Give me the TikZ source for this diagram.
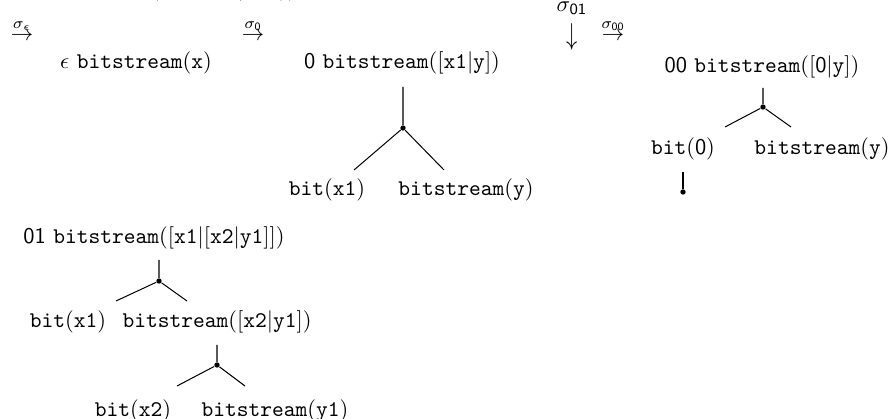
\documentclass[tikz,border=0pt]{standalone}
\usepackage{amsmath}
\newcommand{\dg}[1]{\textsf{#1}}
\newcommand{\mdg}[1]{\mathsf{#1}}
\begin{document}
\begin{tikzpicture}[x=0.4464pt,y=-0.4464pt,
  lbl/.style={inner sep=0pt, outer sep=0pt},
  branch/.style={line width=0.45pt},
  joint/.style={circle, fill, inner sep=0pt, minimum size=2.4pt}]
\useasboundingbox (0,0) rectangle (894,419);
\clip (0,0) rectangle (894,419);

% line cut off at the top edge
\node[lbl, anchor=base] (cutA) at (155,-4) {(};
\node[lbl, anchor=base] (cutB) at (238,-4) {(};
\node[lbl, anchor=base] (cutC) at (288,-4) {))};

% transition arrows
\node[lbl] (sE) at (22,30) {$\stackrel{\sigma_\epsilon}{\rightarrow}$};
\node[lbl] (s0) at (253,30) {$\stackrel{\sigma_{\mdg{0}}}{\rightarrow}$};
\node[lbl] (s01) at (572,26) {\shortstack{$\sigma_{\mdg{01}}$\\[1pt]\scalebox{1}[1.35]{$\downarrow$}}};
\node[lbl] (s00) at (613,30) {$\stackrel{\sigma_{\mdg{00}}}{\rightarrow}$};

% state epsilon
\node[lbl] (rE) at (136,63) {$\epsilon$ \texttt{bitstream}(\texttt{x})};

% state 0
\node[lbl] (r0) at (402,63) {\dg{0} \texttt{bitstream}([\texttt{x1}$|$\texttt{y}])};
\node[lbl] (r0a) at (327,190) {\texttt{bit}(\texttt{x1})};
\node[lbl] (r0b) at (466,190) {\texttt{bitstream}(\texttt{y})};
\coordinate (r0t) at (403,87);
\node[joint] (j0) at (403,128) {};
\coordinate (r0l) at (354,170);
\coordinate (r0r) at (444,170);
\draw[branch] (r0t) -- (j0) -- (r0l);
\draw[branch] (j0) -- (r0r);

% state 00
\node[lbl] (r00) at (762,67) {\dg{00} \texttt{bitstream}([\dg{0}$|$\texttt{y}])};
\node[lbl] (r00a) at (683,149) {\texttt{bit}(\dg{0})};
\node[lbl] (r00b) at (822,149) {\texttt{bitstream}(\texttt{y})};
\coordinate (r00t) at (763,88);
\node[joint] (j00) at (763,107) {};
\coordinate (r00l) at (725,127);
\coordinate (r00r) at (791,127);
\draw[branch] (r00t) -- (j00) -- (r00l);
\draw[branch] (j00) -- (r00r);
\coordinate (r00at) at (683,172);
\node[joint] (j00a) at (683,192) {};
\draw[branch] (r00at) -- (j00a);

% state 01
\node[lbl] (r01) at (154,238) {\dg{01} \texttt{bitstream}([\texttt{x1}$|$[\texttt{x2}$|$\texttt{y1}]])};
\node[lbl] (r01a) at (68,322) {\texttt{bit}(\texttt{x1})};
\node[lbl] (r01b) at (217,322) {\texttt{bitstream}([\texttt{x2}$|$\texttt{y1}])};
\coordinate (r01t) at (159,260);
\node[joint] (j01) at (159,281) {};
\coordinate (r01l) at (116,301);
\coordinate (r01r) at (187,301);
\draw[branch] (r01t) -- (j01) -- (r01l);
\draw[branch] (j01) -- (r01r);

\node[lbl] (r01c) at (133,411) {\texttt{bit}(\texttt{x2})};
\node[lbl] (r01d) at (275,411) {\texttt{bitstream}(\texttt{y1})};
\coordinate (r01bt) at (217,345);
\node[joint] (j01b) at (217,365) {};
\coordinate (r01bl) at (177,386);
\coordinate (r01br) at (245,386);
\draw[branch] (r01bt) -- (j01b) -- (r01bl);
\draw[branch] (j01b) -- (r01br);
\end{tikzpicture}
\end{document}
